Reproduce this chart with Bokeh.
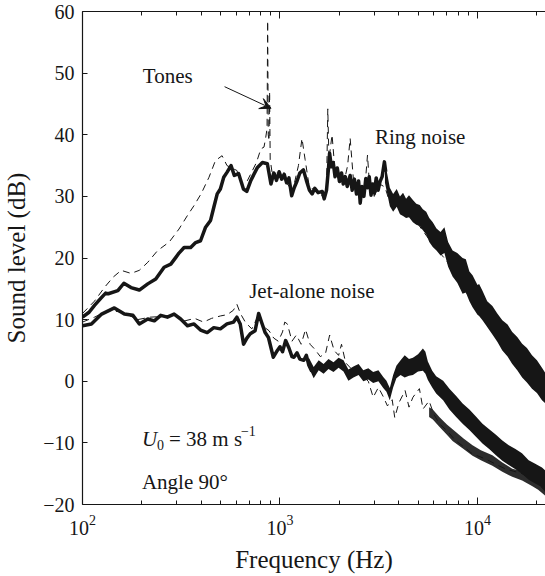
from bokeh.plotting import figure
from bokeh.models import (ColumnDataSource, LogAxis, LinearAxis, FixedTicker, Range1d,
                          Arrow, VeeHead)
from bokeh.embed import file_html
from bokeh.resources import INLINE
from bokeh.core.properties import value

# ---------------- data ----------------
# Ring noise, solid (thick) curve, low/mid frequency part
ring_f = [100, 108, 115, 125, 131, 135, 151, 162, 176, 194, 214, 235, 259, 280, 297,
          308, 327, 353, 374, 396, 420, 445, 462, 481, 499, 519, 539, 565, 587, 617,
          653, 679, 712, 769, 815, 863, 900, 930, 960, 990, 1020, 1050, 1080, 1110,
          1146, 1180, 1220, 1260, 1314, 1360, 1410, 1455, 1500, 1560, 1636, 1674,
          1720, 1760, 1783, 1820, 1860, 1900, 1950, 2000, 2050, 2091, 2140, 2190,
          2266, 2320, 2380, 2440, 2500, 2548, 2600, 2660, 2720, 2774, 2830, 2890,
          2950, 3003, 3070, 3140, 3210, 3290, 3379, 3430]
ring_db = [10.4, 11.2, 12.3, 13.6, 14.3, 14.2, 14.7, 15.9, 15.2, 14.8, 15.8, 16.6, 18.5,
           19.0, 20.1, 20.8, 21.7, 21.7, 22.5, 22.8, 25.0, 26.1, 28.2, 30.4, 31.2, 33.1,
           33.9, 35.0, 33.4, 33.7, 31.2, 30.8, 32.6, 34.7, 35.5, 35.3, 32.0, 33.8, 32.6,
           34.0, 32.8, 33.6, 32.2, 33.0, 30.1, 31.4, 32.5, 33.8, 34.3, 32.6, 31.0, 30.4,
           31.3, 30.6, 30.8, 29.6, 31.0, 34.5, 37.0, 34.8, 35.5, 33.2, 34.6, 32.4, 33.8,
           32.0, 33.2, 31.6, 33.4, 31.0, 32.8, 30.4, 32.5, 28.9, 31.6, 30.0, 32.9, 31.4,
           33.2, 30.2, 32.0, 30.5, 33.0, 31.0, 32.4, 33.2, 35.6, 34.0]

# Ring noise, solid curve, high-frequency noisy band (lower / upper edge)
ring_hi_f = [3400, 3600, 3741, 3900, 4050, 4198, 4350, 4500, 4710, 4900, 5100, 5291,
             5500, 5700, 5937, 6200, 6500, 6801, 7100, 7480, 7900, 8405, 8730, 9100,
             9442, 10000, 10190, 10600, 11200, 11900, 12600, 13360, 14200, 15000,
             15900, 16830, 17800, 18880, 20000, 21210, 22100]
ring_hi_up = [35.6, 31.4, 30.4, 31.2, 30.0, 30.6, 29.6, 30.2, 29.4, 28.8, 28.6, 27.9,
              27.5, 26.5, 25.8, 24.8, 24.2, 25.0, 22.6, 21.2, 20.8, 20.0, 19.8, 17.8,
              17.2, 15.6, 15.8, 14.7, 13.0, 12.2, 11.0, 9.9, 9.2, 8.0, 7.2, 6.1, 5.4,
              4.2, 3.4, 2.2, 1.3]
ring_hi_lo = [32.2, 28.4, 27.5, 28.3, 27.1, 26.8, 26.5, 26.6, 25.8, 25.4, 25.2, 24.5,
              23.8, 22.6, 21.8, 21.2, 20.4, 20.8, 18.6, 17.0, 16.0, 14.2, 14.4, 13.0,
              12.0, 10.8, 10.6, 9.9, 8.8, 7.6, 6.4, 5.0, 4.0, 2.8, 1.8, 0.6, -0.2,
              -1.2, -1.9, -3.1, -3.6]

# Ring noise, dashed (thin) curve with the tones
ringd_f = [100, 115, 129, 143, 157, 176, 194, 214, 240, 275, 308, 340, 367, 400, 437,
           471, 509, 539, 570, 605, 640, 680, 720, 760, 800, 830, 847, 860, 866, 872,
           880, 886, 892, 920, 960, 1000, 1060, 1120, 1180, 1240, 1292, 1340, 1400,
           1480, 1560, 1650, 1720, 1746, 1770, 1835, 1900, 1980, 2100, 2200, 2266,
           2350, 2450, 2600, 2700, 2774, 2850, 3000, 3200, 3400, 3600, 3900, 4300,
           5000, 6000, 7000, 8000, 9500, 11000, 13000, 15500, 18500, 22100]
ringd_db = [11.0, 13.0, 15.2, 16.9, 18.0, 17.5, 18.0, 19.3, 21.2, 22.6, 24.7, 26.9,
            28.5, 30.5, 33.1, 35.8, 36.6, 35.0, 34.6, 34.2, 32.0, 32.4, 34.0, 35.5,
            37.7, 38.0, 39.6, 41.0, 58.5, 40.0, 39.0, 47.0, 36.0, 33.0, 34.0, 33.0,
            32.5, 31.5, 32.0, 35.0, 39.4, 36.0, 32.0, 31.0, 30.5, 30.0, 31.0, 44.2,
            36.0, 40.0, 34.0, 33.0, 32.0, 35.0, 39.4, 33.0, 30.0, 31.0, 32.0, 36.7,
            31.0, 30.0, 32.0, 31.5, 29.0, 28.0, 27.5, 25.5, 22.0, 19.5, 16.0, 13.0,
            10.0, 6.5, 3.0, 0.0, -2.5]

# Jet-alone noise, solid (thick) curve, low/mid frequency part
jet_f = [100, 111, 125, 145, 163, 180, 194, 214, 231, 249, 269, 291, 314, 340, 367,
         396, 428, 462, 499, 539, 582, 605, 629, 654, 680, 707, 748, 780, 810, 841,
         874, 925, 970, 1000, 1030, 1068, 1110, 1150, 1176, 1220, 1260, 1320, 1360,
         1400, 1450]
jet_db = [9.0, 9.3, 10.9, 11.9, 10.9, 10.7, 9.3, 10.1, 9.8, 10.7, 10.4, 10.9, 10.1,
          9.0, 9.3, 8.3, 7.9, 8.7, 8.5, 9.3, 9.6, 10.4, 9.3, 6.0, 7.0, 7.7, 8.2, 11.0,
          9.4, 7.9, 7.1, 3.9, 5.0, 5.6, 4.8, 6.6, 5.4, 4.0, 3.9, 4.6, 3.6, 3.4, 4.2,
          2.6, 1.6]

# Jet-alone noise, solid curve, high-frequency noisy band (lower / upper edge)
jet_hi_f = [1400, 1481, 1570, 1663, 1760, 1866, 1980, 2097, 2220, 2354, 2500, 2641,
            2800, 2964, 3150, 3333, 3460, 3597, 3740, 3885, 4080, 4280, 4500, 4710,
            5000, 5291, 5450, 5607, 5900, 6176, 6700, 7210, 7800, 8410, 9100, 9820,
            10600, 11460, 12400, 13360, 14400, 15570, 16800, 18160, 19600, 21210, 22100]
jet_hi_up = [3.8, 2.3, 3.4, 2.8, 3.6, 3.1, 3.8, 3.4, 1.9, 2.4, 2.8, 1.8, 2.1, 1.5, 1.8,
             0.7, 0.1, -1.1, 1.0, 2.5, 3.4, 4.2, 3.6, 3.8, 4.4, 5.3, 4.8, 3.2, 1.7, 0.8,
             0.1, -1.2, -2.4, -3.6, -4.6, -5.7, -6.9, -7.8, -8.7, -9.6, -10.4, -11.0,
             -11.7, -12.8, -13.4, -14.0, -14.5]
jet_hi_lo = [2.2, 0.5, 1.8, 1.2, 2.0, 1.5, 2.2, 1.6, 0.1, 0.6, 1.0, 0.0, 0.3, -0.3,
             0.0, -1.1, -1.7, -3.1, -1.0, 0.5, 1.0, 0.6, 0.9, 1.0, 1.6, 1.7, 1.2, 0.2,
             -1.0, -2.0, -3.1, -4.6, -5.8, -6.9, -7.9, -9.0, -10.1, -11.0, -12.0,
             -12.9, -13.6, -14.3, -15.0, -16.0, -16.6, -17.2, -18.1]

# Jet-alone noise, dashed (thin) curve
jetd_f = [100, 115, 135, 160, 190, 220, 250, 290, 330, 370, 410, 450, 500, 540, 580,
          605, 630, 670, 720, 780, 830, 880, 930, 980, 1030, 1057, 1090, 1150, 1210,
          1280, 1347, 1420, 1500, 1600, 1700, 1784, 1880, 1980, 2049, 2150, 2300, 2450,
          2600, 2800, 2964, 3150, 3333, 3500, 3700, 3811, 4000, 4300, 4500, 4710, 5080,
          5300, 5690, 6000, 6410, 7000, 7730, 8500, 9440, 10400, 11460, 12600, 13800,
          15200, 16830, 18500, 20290, 22100]
jetd_db = [9.6, 10.4, 11.5, 11.2, 10.0, 10.4, 10.5, 10.8, 9.8, 10.2, 9.6, 10.2, 10.6,
           10.8, 11.5, 12.5, 11.0, 9.5, 8.5, 10.8, 8.8, 8.2, 7.0, 6.5, 8.0, 9.6, 9.3,
           6.5, 7.5, 6.0, 8.4, 6.0, 5.2, 4.0, 4.5, 7.5, 5.0, 4.2, 6.0, 3.0, 2.0, 1.5,
           1.0, 0.0, -2.6, -1.0, -2.5, -4.0, -3.0, -5.9, -3.5, -1.5, -4.2, -2.6, -1.2,
           -4.5, -3.2, -5.3, -6.9, -8.0, -9.6, -10.6, -11.8, -12.3, -12.9, -13.6, -14.2,
           -14.6, -15.0, -15.8, -16.7, -17.8]

# Jet-alone noise, dashed curve, high-frequency noisy band
jetd_hi_f = [5690, 5940, 6410, 7000, 7480, 8500, 9440, 10400, 11900, 13360, 15000,
             16830, 18880, 20290, 22100]
jetd_hi_up = [-4.2, -4.6, -5.8, -7.0, -7.8, -9.3, -10.4, -11.2, -12.0, -13.2, -14.2,
              -14.6, -15.3, -15.9, -16.4]
jetd_hi_lo = [-5.8, -6.2, -7.4, -8.7, -9.7, -11.0, -12.1, -12.8, -13.7, -14.7, -15.5,
              -16.1, -17.0, -17.6, -18.6]

# axes
x_major = [100, 1000, 10000]
x_minor = [200, 300, 400, 500, 600, 700, 800, 900,
           2000, 3000, 4000, 5000, 6000, 7000, 8000, 9000, 20000]
y_major = [-20, -10, 0, 10, 20, 30, 40, 50, 60]

# annotations
ann_text = ["Tones", "Ring noise", "Jet-alone noise", "Angle 90\u00b0"]
ann_f = [202, 3027, 698, 200]
ann_db = [49.6, 39.7, 14.7, -16.4]
tone_arrow_f = [524, 901]
tone_arrow_db = [47.8, 44.3]
u0_f = 200
u0_db = -9.3

# ---------------- figure ----------------
SERIF = "'Liberation Serif'"
INK = "#161616"

p = figure(width=545, height=576, x_axis_type="log", y_axis_location=None,
           x_range=Range1d(100, 22100), y_range=Range1d(-20, 60),
           output_backend="svg", toolbar_location=None,
           min_border_left=77, min_border_right=0, min_border_top=11,
           min_border_bottom=72)
p.grid.visible = False
p.outline_line_color = None
p.background_fill_color = "white"
p.border_fill_color = "white"

xt = FixedTicker(ticks=x_major, minor_ticks=x_minor)
bottom = p.below[0]
bottom.ticker = xt

top = LogAxis(ticker=xt)
left = LinearAxis(ticker=FixedTicker(ticks=y_major))

for ax in (bottom, left, top):
    ax.axis_line_color = INK
    ax.axis_line_width = 1.2
    ax.major_tick_line_color = INK
    ax.minor_tick_line_color = INK
    ax.major_tick_in = 7
    ax.major_tick_out = 0
    ax.minor_tick_in = 4
    ax.minor_tick_out = 0
    ax.major_label_text_font = SERIF
    ax.major_label_text_color = INK
    ax.major_label_text_font_size = "20px"
    ax.axis_label_text_font = SERIF
    ax.axis_label_text_font_style = "normal"
    ax.axis_label_text_color = INK
    ax.axis_label_text_font_size = "25px"

top.major_label_text_font_size = "1px"
top.major_label_text_alpha = 0
top.major_label_standoff = 0

left.minor_tick_line_color = None
left.major_tick_in = 5
bottom.major_label_standoff = 10
left.major_label_standoff = 8
bottom.axis_label = "Frequency (Hz)"
left.axis_label = "Sound level (dB)"
bottom.axis_label_standoff = 8
left.axis_label_standoff = 10

p.add_layout(top, "above")
p.add_layout(left, "left")

# dashed curves (underneath)
p.line(ringd_f, ringd_db, line_color=INK, line_width=1, line_dash="7 5")
p.line(jetd_f, jetd_db, line_color=INK, line_width=1, line_dash="7 5")
p.varea(x=jetd_hi_f, y1=jetd_hi_lo, y2=jetd_hi_up, fill_color=INK, fill_alpha=0.9)

# solid curves
p.line(ring_f, ring_db, line_color=INK, line_width=3.5, line_join="round")
p.varea(x=ring_hi_f, y1=ring_hi_lo, y2=ring_hi_up, fill_color=INK)
p.line(jet_f, jet_db, line_color=INK, line_width=3.5, line_join="round")
p.varea(x=jet_hi_f, y1=jet_hi_lo, y2=jet_hi_up, fill_color=INK)

# annotations
src = ColumnDataSource(dict(x=ann_f, y=ann_db, t=ann_text))
p.text(x="x", y="y", text="t", source=src, text_font=value(SERIF),
       text_font_size=value("21px"), text_baseline="middle", text_align="left",
       text_color=INK)

p.add_layout(Arrow(end=VeeHead(size=11, fill_color=INK, line_color=INK),
                   x_start=tone_arrow_f[0], y_start=tone_arrow_db[0],
                   x_end=tone_arrow_f[1], y_end=tone_arrow_db[1],
                   line_color=INK, line_width=1))

# U0 = 38 m s^-1 (built from pieces)
p.text(x=[u0_f], y=[u0_db], text=["U"], text_font=value(SERIF),
       text_font_style="italic", text_font_size=value("21px"),
       text_baseline="middle", text_color=INK)
p.text(x=[u0_f], y=[u0_db], text=["0"], text_font=value(SERIF),
       text_font_size=value("14px"), text_baseline="middle", text_color=INK,
       x_offset=15, y_offset=6)
p.text(x=[u0_f], y=[u0_db], text=["= 38 m s"], text_font=value(SERIF),
       text_font_size=value("21px"), text_baseline="middle", text_color=INK,
       x_offset=27)
p.text(x=[u0_f], y=[u0_db], text=["\u22121"], text_font=value(SERIF),
       text_font_size=value("14px"), text_baseline="middle", text_color=INK,
       x_offset=99, y_offset=-8)

open("out.html", "w").write(file_html(p, INLINE))
